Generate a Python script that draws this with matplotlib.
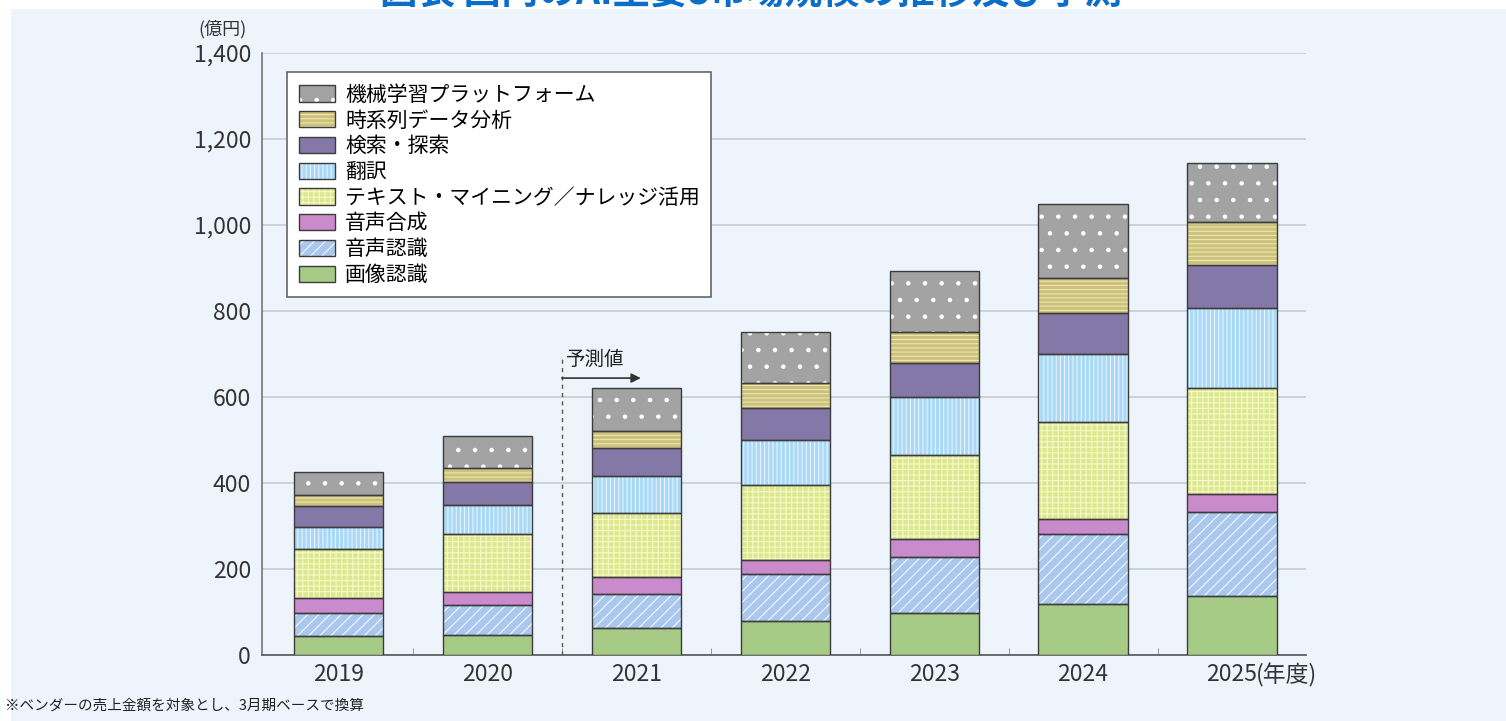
import numpy as np
import matplotlib
matplotlib.use('Agg')
import matplotlib.pyplot as plt
from matplotlib.patches import Patch, Rectangle
from matplotlib.ticker import FuncFormatter, FixedLocator

plt.rcParams['font.family'] = ['Noto Sans CJK JP', 'DejaVu Sans']
plt.rcParams['hatch.linewidth'] = 0.8

# data (億円)
years = ['2019', '2020', '2021', '2022', '2023', '2024', '2025']
image_rec = [45, 47, 62, 78, 97, 118, 138]
speech_rec = [53, 69, 81, 110, 131, 163, 195]
speech_syn = [34, 31, 39, 33, 42, 35, 41]
text_mining = [114, 134, 149, 174, 194, 227, 246]
translation = [51, 69, 85, 106, 137, 158, 186]
search = [49, 52, 65, 74, 79, 95, 101]
time_series = [26, 34, 41, 58, 72, 81, 101]
ml_platform = [53, 74, 98, 119, 141, 172, 136]

series = [image_rec, speech_rec, speech_syn, text_mining,
          translation, search, time_series, ml_platform]
labels = ['画像認識', '音声認識', '音声合成', 'テキスト・マイニング／ナレッジ活用',
          '翻訳', '検索・探索', '時系列データ分析', '機械学習プラットフォーム']
# face color, hatch, hatch color
styles = [
    ('#a6cb87', None, '#a6cb87'),
    ('#aac7ee', '///', '#f4f8ff'),
    ('#c98bcb', None, '#c98bcb'),
    ('#dce890', '+++', '#f6f9c8'),
    ('#a9d9f7', '||||', '#e6f4ff'),
    ('#8478a8', None, '#8478a8'),
    ('#ccc27e', '----', '#ede6ae'),
    ('#a3a3a3', '.', '#ffffff'),
]
bg = '#eef4fc'
edge = '#3c3c3c'

fig = plt.figure(figsize=(15.06, 7.21), dpi=100, facecolor='white')
fig.patches.append(Rectangle((11 / 1506, 0), 1, 1 - 9 / 721, transform=fig.transFigure,
                             facecolor=bg, edgecolor='none', zorder=-10))
ax = fig.add_axes([262 / 1506, 1 - 655 / 721, 1044 / 1506, 602 / 721])
ax.set_facecolor(bg)

x = np.arange(len(years))
bottom = np.zeros(len(years))
handles = []
for vals, lab, (fc, h, hc) in zip(series, labels, styles):
    vals = np.array(vals, dtype=float)
    ax.bar(x, vals, 0.6, bottom=bottom, color=fc, hatch=h, edgecolor=hc,
           linewidth=0, zorder=3)
    ax.bar(x, vals, 0.6, bottom=bottom, fill=False, edgecolor=edge,
           linewidth=1, zorder=4)
    bottom += vals
    handles.append((Patch(facecolor=fc, hatch=h, edgecolor=hc, linewidth=0),
                    Patch(fill=False, edgecolor=edge, linewidth=1)))

ax.set_xlim(-0.514, 6.497)
ax.set_ylim(0, 1400)
ax.set_yticks(range(0, 1401, 200))
ax.yaxis.set_major_formatter(FuncFormatter(lambda v, p: f'{int(v):,}'))
ax.set_xticks(x)
ax.set_xticklabels(years)
ax.xaxis.set_minor_locator(FixedLocator(np.arange(0.5, 6, 1)))
ax.tick_params(axis='x', which='major', length=0, pad=6, labelsize=16.5, labelcolor='#333333')
ax.tick_params(axis='x', which='minor', length=5, direction='in', color='#888888')
ax.tick_params(axis='y', length=0, pad=8, labelsize=16.5, labelcolor='#333333')
ax.grid(axis='y', color='#c6ccd4', linewidth=1.2, zorder=0)
ax.set_axisbelow(True)
for s in ['top', 'right']:
    ax.spines[s].set_visible(False)
ax.spines['left'].set_color('#777777')
ax.spines['bottom'].set_color('#555555')
ax.spines['left'].set_linewidth(1.2)
ax.spines['bottom'].set_linewidth(1.2)

# forecast marker
ax.plot([1.5, 1.5], [0, 695], color='#555555', linewidth=1, linestyle=(0, (3, 3)), zorder=2)
ax.annotate('', xy=(2.03, 644), xytext=(1.5, 644),
            arrowprops=dict(arrowstyle='-|>', color='#333333', lw=1.2,
                            mutation_scale=14, shrinkA=0, shrinkB=0))
ax.text(1.53, 688, '予測値', fontsize=14, color='#222222', ha='left', va='center')

ax.text(-0.015, 1.04, '(億円)', transform=ax.transAxes, fontsize=13,
        color='#333333', ha='right', va='center')
ax.annotate('(年度)', xy=(6, 0), xycoords=('data', 'axes fraction'),
            xytext=(17, -6), textcoords='offset points', ha='left', va='top',
            fontsize=16.5, color='#333333')

leg = ax.legend(handles[::-1], labels[::-1], loc='upper left',
                bbox_to_anchor=(0.024, 0.968), borderaxespad=0, fontsize=15,
                frameon=True, fancybox=False, edgecolor='#666666', framealpha=1,
                facecolor='white', handlelength=1.73, handleheight=0.82,
                handletextpad=0.5, labelspacing=0.18, borderpad=0.55)
leg.get_frame().set_linewidth(1.2)
leg.set_zorder(5)

fig.text(5 / 1506, 1 - 706 / 721, '※ベンダーの売上金額を対象とし、3月期ベースで換算',
         fontsize=10.5, color='#222222', ha='left', va='center')
# title is cropped at the top edge in the source image
fig.text(751 / 1506, 1 - 4 / 721, '図表 国内のAI主要8市場規模の推移及び予測',
         fontsize=27, color='#0a6ec8', fontweight='bold', ha='center', va='baseline')

fig.savefig('out.png', dpi=100, facecolor='white')
